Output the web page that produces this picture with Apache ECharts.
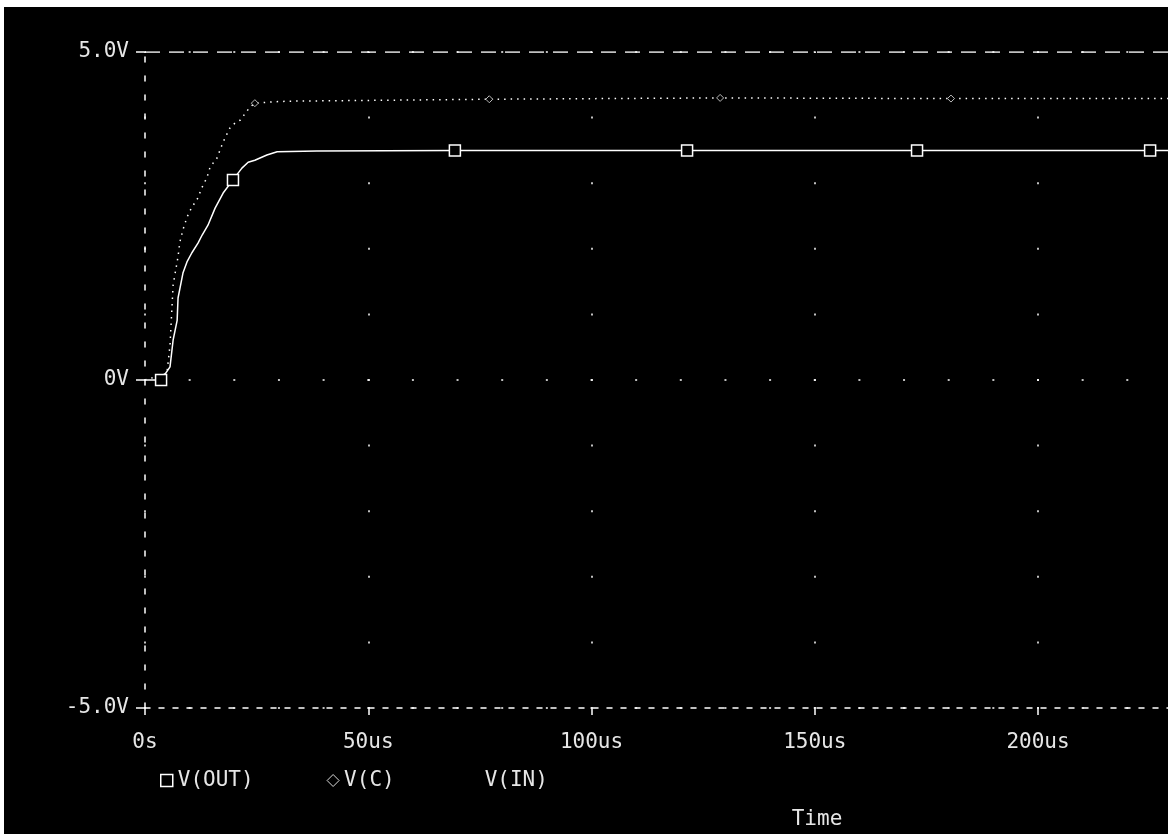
<!DOCTYPE html>
<html><head><meta charset="utf-8">
<script src="https://cdn.jsdelivr.net/npm/echarts@6/dist/echarts.min.js"></script>
<style>html,body{margin:0;padding:0;background:#fff;overflow:hidden}#c{width:1168px;height:834px}</style>
</head><body><div id="c"></div>
<script>
// ---- data ----
const xTickValues = [0, 50, 100, 150, 200];
const xTickLabels = ['0s', '50us', '100us', '150us', '200us'];
const yTickValues = [-5, 0, 5];
const yTickLabels = ['-5.0V', '0V', '5.0V'];
const seriesNames = ['V(OUT)', 'V(C)', 'V(IN)'];
const xAxisName = 'Time';

const tOut = [0, 3.6, 5.6, 6.3, 7.2, 7.4, 8.5, 9.4, 10.5, 11.9, 12.8, 14.1, 15.7, 17.5, 19.7, 21.7, 23.1, 24.6, 27.3, 29.6, 38.5, 69.4, 121.4, 172.9, 225.1, 230];
const vOut = [0, 0, 0.20, 0.61, 0.91, 1.25, 1.63, 1.80, 1.94, 2.09, 2.21, 2.36, 2.62, 2.85, 3.05, 3.23, 3.32, 3.35, 3.43, 3.48, 3.49, 3.50, 3.50, 3.50, 3.50, 3.50];
const outMarkerTimes = [3.6, 19.7, 69.4, 121.4, 172.9, 225.1];

const tC = [0, 4.9, 5.6, 6.3, 7.4, 7.8, 8.5, 9.4, 10.5, 11.6, 12.8, 13.9, 14.6, 16.1, 17.5, 19.0, 20.2, 21.3, 23.5, 24.6, 28.7, 31.8, 77.1, 128.8, 180.5, 230];
const vC = [0, 0.10, 0.53, 1.45, 1.88, 2.10, 2.29, 2.48, 2.64, 2.74, 2.94, 3.09, 3.25, 3.38, 3.63, 3.84, 3.92, 3.96, 4.16, 4.22, 4.24, 4.25, 4.28, 4.30, 4.29, 4.29];
const cMarkerTimes = [24.6, 77.1, 128.8, 180.5];

const tIn = [0, 230];
const vIn = [5, 5];

// ---- chart ----
const FONT = '"DejaVu Sans Mono", monospace';
const TXT = '#e6e6e6';
function pts(t, v, marks, sym) {
  return t.map((x, i) => ({ value: [x, v[i]], symbol: marks.includes(x) ? sym : 'none' }));
}
const chart = echarts.init(document.getElementById('c'), null, { renderer: 'canvas' });
chart.setOption({
  animation: false,
  backgroundColor: '#000',
  grid: { left: 145, top: 52, width: 1027, height: 656, containLabel: false, outerBoundsMode: 'none' },
  xAxis: {
    type: 'value', min: 0, max: 230, interval: 50,
    axisLine: { onZero: false, lineStyle: { color: '#fff', width: 1.5, type: [5, 9] } },
    axisTick: { show: true, length: 7, lineStyle: { color: '#fff', width: 1.5 } },
    axisLabel: {
      color: TXT, fontFamily: FONT, fontSize: 21, margin: 24, showMaxLabel: false,
      formatter: v => { const i = xTickValues.indexOf(v); return i >= 0 ? xTickLabels[i] : ''; }
    },
    splitLine: { show: true, lineStyle: { color: '#fff', width: 1.5, type: [2, 63.6], dashOffset: 1 } }
  },
  yAxis: {
    type: 'value', min: -5, max: 5, interval: 5,
    axisLine: { show: true, onZero: false, lineStyle: { color: '#fff', width: 1.5, type: [5, 14] } },
    axisTick: { show: true, length: 9, lineStyle: { color: '#fff', width: 1.5 } },
    axisLabel: {
      color: TXT, fontFamily: FONT, fontSize: 21, margin: 16,
      formatter: v => { const i = yTickValues.indexOf(v); return i >= 0 ? yTickLabels[i] : ''; }
    },
    splitLine: { show: true, lineStyle: { color: '#fff', width: 1.5, type: [2, 42.65], dashOffset: 1 } }
  },
  legend: {
    left: 155, top: 765, itemGap: 73, itemWidth: 12, itemHeight: 12,
    selectedMode: false,
    textStyle: { color: TXT, fontFamily: FONT, fontSize: 21 },
    lineStyle: { opacity: 0 },
    data: [
      { name: seriesNames[0], icon: 'rect', itemStyle: { color: '#000', borderColor: '#fff', borderWidth: 1.5 } },
      { name: seriesNames[1], icon: 'diamond', itemStyle: { color: '#000', borderColor: '#ddd', borderWidth: 1 } },
      { name: seriesNames[2], icon: 'rect', itemStyle: { color: 'rgba(0,0,0,0)', borderWidth: 0 } }
    ]
  },
  series: [
    {
      name: seriesNames[0], type: 'line', data: pts(tOut, vOut, outMarkerTimes, 'rect'),
      showSymbol: true, showAllSymbol: true, symbolSize: 11, z: 4,
      lineStyle: { color: '#fff', width: 1.5 },
      itemStyle: { color: '#000', borderColor: '#fff', borderWidth: 1.5 }
    },
    {
      name: seriesNames[1], type: 'line', data: pts(tC, vC, cMarkerTimes, 'diamond'),
      showSymbol: true, showAllSymbol: true, symbolSize: 7, z: 3,
      lineStyle: { color: '#fff', width: 1.5, type: [1.5, 5] },
      itemStyle: { color: '#000', borderColor: '#bbb', borderWidth: 1 }
    },
    {
      name: seriesNames[2], type: 'line', data: tIn.map((x, i) => [x, vIn[i]]),
      symbol: 'none', z: 3,
      lineStyle: { color: '#fff', width: 1.5, type: [15, 9] }
    }
  ],
  graphic: [
    { type: 'rect', shape: { x: 0, y: 0, width: 1168, height: 7 }, style: { fill: '#fff' }, z: 100 },
    { type: 'rect', shape: { x: 0, y: 0, width: 4, height: 834 }, style: { fill: '#fff' }, z: 100 },
    { type: 'text', x: 817, y: 820, style: { text: xAxisName, fill: TXT, fontFamily: FONT, fontSize: 21, align: 'center', verticalAlign: 'middle' } }
  ]
});
</script></body></html>
